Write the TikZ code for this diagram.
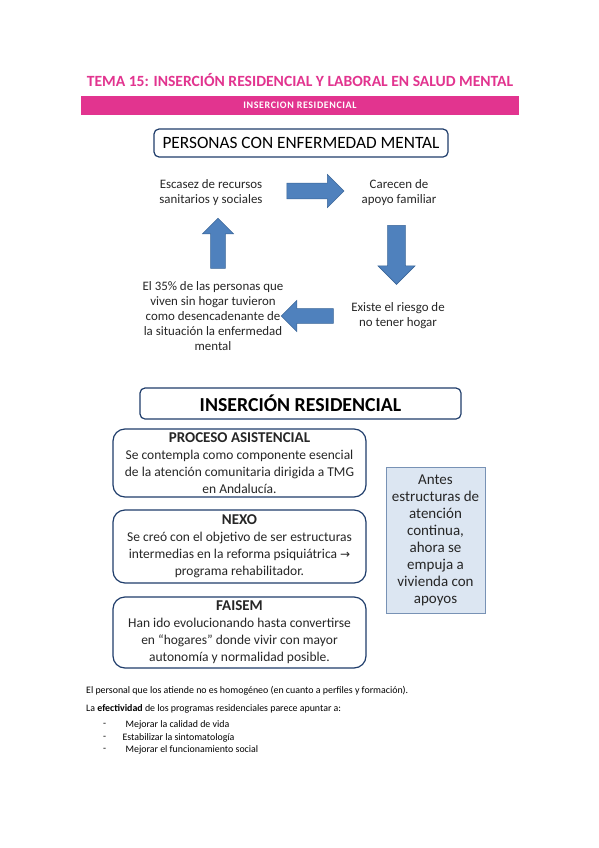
\documentclass[tikz,border=0pt]{standalone}
\usepackage{fontspec}
\setmainfont{Carlito}
\newfontfamily\symfont{DejaVu Sans}
\usetikzlibrary{shapes,arrows.meta,positioning}
\definecolor{rsPink}{HTML}{E2348F}
\definecolor{rsNavy}{HTML}{1F3D6B}
\definecolor{rsArrowFill}{HTML}{4F81BD}
\definecolor{rsArrowDraw}{HTML}{3A6598}
\definecolor{rsNoteFill}{HTML}{DCE6F2}
\definecolor{rsNoteDraw}{HTML}{7892B5}
\definecolor{rsText}{HTML}{262626}
\tikzset{
    rsHeadBox/.style={
        rectangle,
        draw=rsNavy,
        line width=1.2pt,
        rounded corners=5pt,
        fill=white,
        text=black,
        inner sep=0pt
    },
    rsInfoBox/.style={
        rectangle,
        draw=rsNavy,
        line width=1.2pt,
        rounded corners=12pt,
        minimum width=253pt,
        align=center,
        inner sep=0pt,
        text=rsText,
        font=\fontsize{13.5}{17}\selectfont
    },
    rsNote/.style={
        rectangle,
        draw=rsNoteDraw,
        fill=rsNoteFill,
        line width=1pt,
        minimum width=99pt,
        minimum height=146pt,
        align=center,
        inner sep=0pt,
        text=rsText,
        font=\fontsize{15}{17}\selectfont
    },
    rsCycleText/.style={
        align=center,
        inner sep=0pt,
        text=rsText,
        font=\fontsize{12.9}{15}\selectfont
    },
    % Block arrows of the cycle
    rsBlockArrow/.style={
        single arrow,
        fill=rsArrowFill,
        draw=rsArrowDraw,
        line width=0.6pt,
        inner sep=7pt,
        single arrow head extend=8pt
    },
    rsPlain/.style={
        anchor=west,
        inner sep=0pt,
        text=black,
        font=\fontsize{9.9}{11}\selectfont
    }
}
\begin{document}
\begin{tikzpicture}[x=1pt,y=-1pt]
\useasboundingbox[fill=white] (0,0) rectangle (599,848);

% Heading
\node[text=rsPink, font=\fontsize{15.6}{17}\selectfont\bfseries, inner sep=0pt] (title) at (300,80)
    {TEMA 15: INSERCIÓN RESIDENCIAL Y LABORAL EN SALUD MENTAL};
\node[fill=rsPink, minimum width=438pt, minimum height=19pt, inner sep=0pt] (bar) at (300,105.5) {};
\node[text=white, font=\fontsize{10}{11}\selectfont\bfseries, inner sep=0pt] (barText) at (bar)
    {\addfontfeature{LetterSpace=6}INSERCION RESIDENCIAL};

\node[rsHeadBox, minimum width=294pt, minimum height=28pt, font=\fontsize{17.3}{19}\selectfont] (personas) at (301,143)
    {PERSONAS CON ENFERMEDAD MENTAL};

% Cycle
\node[rsCycleText] (escasez) at (211,193) {Escasez de recursos\\sanitarios y sociales};
\node[rsCycleText] (carecen) at (399,193) {Carecen de\\apoyo familiar};
\node[rsCycleText] (riesgo) at (398,316) {Existe el riesgo de\\no tener hogar};
\node[rsCycleText] (hogar) at (213,316)
    {El 35\% de las personas que\\viven sin hogar tuvieron\\como desencadenante de\\la situación la enfermedad\\mental};

\node[rsBlockArrow, minimum height=57pt, minimum width=33pt] (arrRight) at (311.5,191) {};
\node[rsBlockArrow, minimum height=59pt, minimum width=37pt, shape border rotate=270] (arrDown) at (396.5,250.5) {};
\node[rsBlockArrow, minimum height=52pt, minimum width=31pt, shape border rotate=180] (arrLeft) at (311,316) {};
\node[rsBlockArrow, minimum height=50pt, minimum width=31pt, shape border rotate=90] (arrUp) at (218,247) {};

% Residential insertion
\node[rsHeadBox, minimum width=321pt, minimum height=31pt, font=\fontsize{19.8}{21}\selectfont\bfseries] (insercion) at (300.5,403.5)
    {INSERCIÓN RESIDENCIAL};

\node[rsInfoBox, minimum height=68pt] (proceso) at (239.5,463)
    {{\fontsize{15}{17}\selectfont\bfseries PROCESO ASISTENCIAL}\\Se contempla como componente esencial\\de la atención comunitaria dirigida a TMG\\en Andalucía.};
\node[rsInfoBox, minimum height=73pt] (nexo) at (239.5,546.5)
    {{\fontsize{15}{17}\selectfont\bfseries NEXO}\\Se creó con el objetivo de ser estructuras\\intermedias en la reforma psiquiátrica {\symfont\fontsize{12}{17}\selectfont →}\\programa rehabilitador.};
\node[rsInfoBox, minimum height=71pt] (faisem) at (239.5,632.5)
    {{\fontsize{15}{17}\selectfont\bfseries FAISEM}\\Han ido evolucionando hasta convertirse\\en “hogares” donde vivir con mayor\\autonomía y normalidad posible.};

\node[rsNote] (antes) at (435.5,540)
    {Antes\\estructuras de\\atención\\continua,\\ahora se\\empuja a\\vivienda con\\apoyos};

% Closing text
\node[rsPlain] (personal) at (86,691)
    {El personal que los atiende no es homogéneo (en cuanto a perfiles y formación).};
\node[rsPlain] (efectividad) at (86,709)
    {La \textbf{efectividad} de los programas residenciales parece apuntar a:};
\node[rsPlain] (dashA) at (103,725) {-};
\node[rsPlain] (dashB) at (103,737.5) {-};
\node[rsPlain] (dashC) at (103,750) {-};
\node[rsPlain, right=19pt of dashA] (calidad) {Mejorar la calidad de vida};
\node[rsPlain, right=16pt of dashB] (sintomas) {Estabilizar la sintomatología};
\node[rsPlain, right=19pt of dashC] (social) {Mejorar el funcionamiento social};
\end{tikzpicture}
\end{document}
